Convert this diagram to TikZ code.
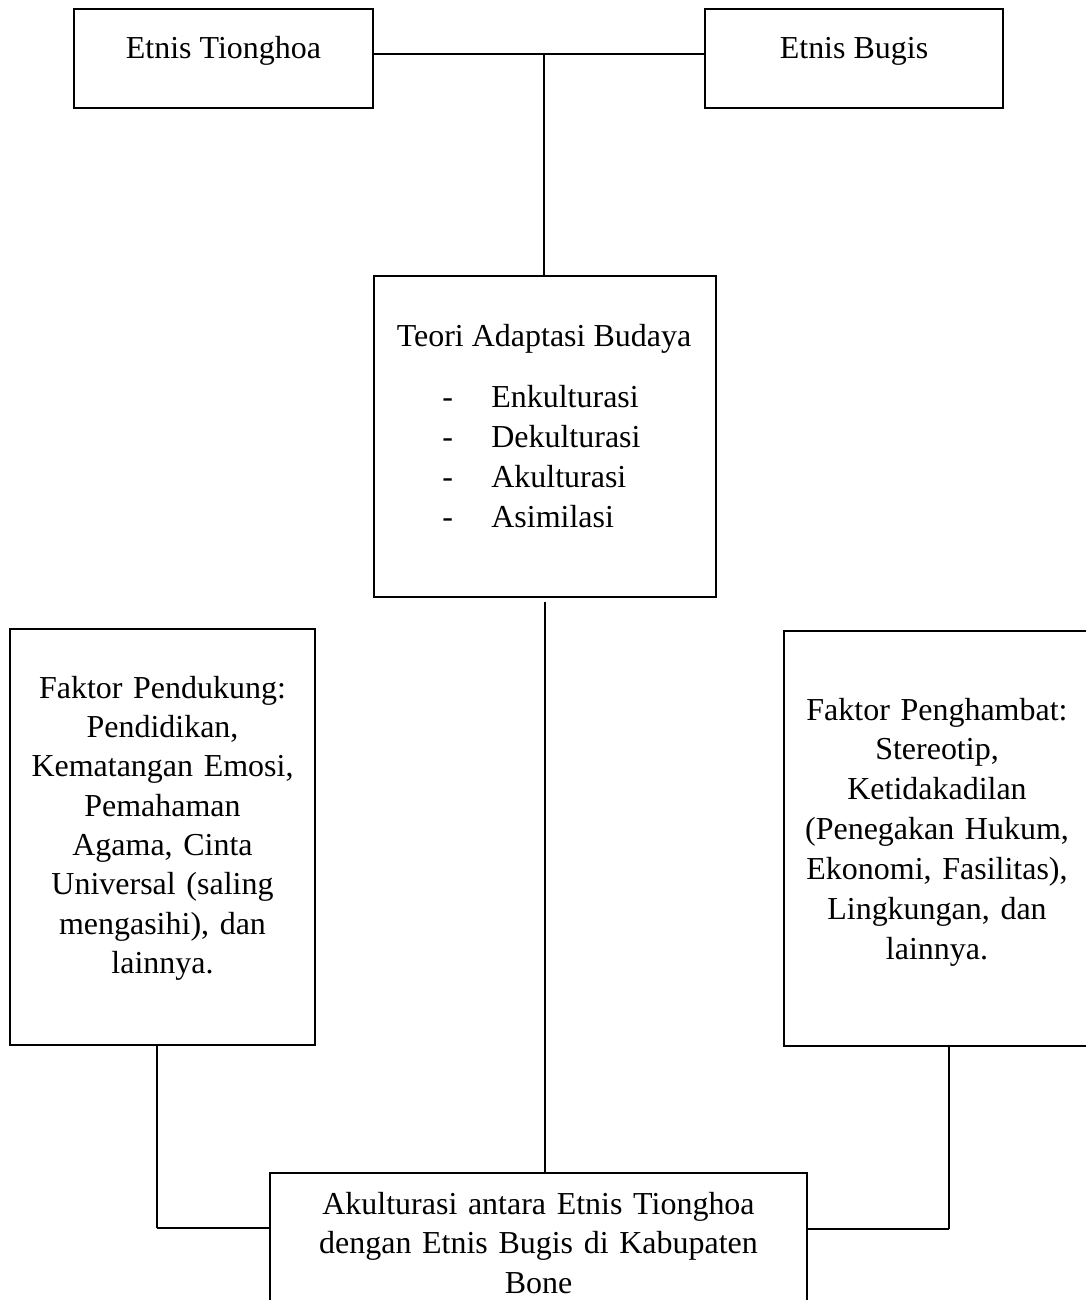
\documentclass[tikz,border=0pt]{standalone}
\usepackage{fontspec}
\setmainfont{Liberation Serif}
\tikzset{
  box/.style={draw, line width=1.1pt, inner sep=0pt},
  txt/.style={inner sep=0pt, font=\fontsize{18.2}{22.7}\selectfont},
  link/.style={line width=1.1pt},
  bar/.style={line width=1.6pt}
}
\begin{document}
\begin{tikzpicture}[x=0.02cm,y=-0.02cm]
    \useasboundingbox (0,0) rectangle (1085,1300);
    % boxes
    \node[box, minimum width=5.98cm, minimum height=1.98cm] (tiong) at (223.5,58.5) {};
    \node[box, minimum width=5.96cm, minimum height=1.98cm] (bugis) at (854,58.5) {};
    \node[box, minimum width=6.84cm, minimum height=6.42cm] (teori) at (545,436.5) {};
    \node[box, minimum width=6.1cm, minimum height=8.32cm] (dukung) at (162.5,837) {};
    \node[box, minimum width=6.12cm, minimum height=8.3cm] (hambat) at (937,838.5) {};
    \node[box, minimum width=10.74cm, minimum height=2.94cm] (akul) at (538.5,1246.5) {};
    % texts
    \node[txt, anchor=base] (tiongtxt) at (223.5,59) {Etnis Tionghoa};
    \node[txt, anchor=base] (bugistxt) at (854,59) {Etnis Bugis};
    \node[txt, anchor=base] (teoritxt) at (544,347) {Teori Adaptasi Budaya};
    \node[txt, anchor=base west, text width=5cm, align=left,
          font=\fontsize{18.2}{22.8}\selectfont] (teorilist) at (442,407)
        {\makebox[0.98cm][l]{-}Enkulturasi\\
         \makebox[0.98cm][l]{-}Dekulturasi\\
         \makebox[0.98cm][l]{-}Akulturasi\\
         \makebox[0.98cm][l]{-}Asimilasi};
    \node[txt, anchor=base, text width=5.9cm, align=center,
          font=\fontsize{18.2}{22.4}\selectfont] (dukungtxt) at (162.5,698)
        {Faktor Pendukung:\\ Pendidikan,\\ Kematangan Emosi,\\ Pemahaman\\
         Agama, Cinta\\ Universal (saling\\ mengasihi), dan\\ lainnya.};
    \node[txt, anchor=base, text width=5.9cm, align=center] (hambattxt) at (937,720)
        {Faktor Penghambat:\\ Stereotip,\\ Ketidakadilan\\ (Penegakan Hukum,\\
         Ekonomi, Fasilitas),\\ Lingkungan, dan\\ lainnya.};
    \node[txt, anchor=base, text width=10.4cm, align=center,
          font=\fontsize{18.2}{22.5}\selectfont] (akultxt) at (538.5,1214)
        {Akulturasi antara Etnis Tionghoa\\ dengan Etnis Bugis di Kabupaten\\ Bone};
    % connectors
    \coordinate (hub) at (544,54);
    \draw[bar] (tiong.east |- hub) -- (bugis.west |- hub);
    \draw[link] (hub) -- (hub |- teori.north);
    \draw[link] ([yshift=-0.08cm]teori.south) -- (teori.south |- akul.north);
    \coordinate (lj) at (157,1228);
    \draw[link] (lj |- dukung.south) -- (lj);
    \draw[bar] (lj) -- (lj -| akul.west);
    \coordinate (rj) at (949,1229);
    \draw[link] (rj |- hambat.south) -- (rj);
    \draw[bar] (rj) -- (rj -| akul.east);
\end{tikzpicture}
\end{document}
